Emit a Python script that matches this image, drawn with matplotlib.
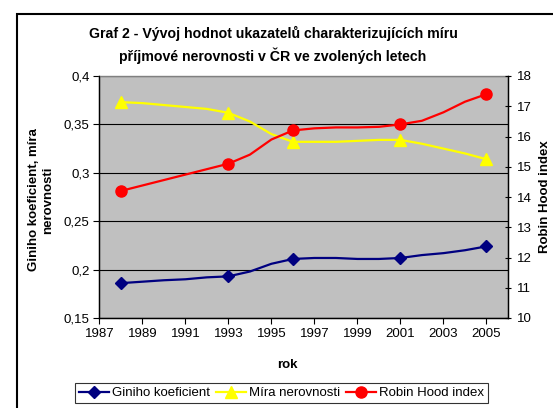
import matplotlib
matplotlib.use("Agg")
import matplotlib.pyplot as plt
from matplotlib.patches import Rectangle

plt.rcParams['font.family'] = ['Liberation Sans', 'DejaVu Sans']

years = [1988, 1989, 1990, 1991, 1992, 1993, 1994, 1995, 1996, 1997,
         1998, 1999, 2000, 2001, 2002, 2003, 2004, 2005]
marker_years = [1988, 1993, 1996, 2001, 2005]
gini = [0.186, 0.1875, 0.189, 0.190, 0.192, 0.193, 0.198, 0.206, 0.211, 0.212,
        0.212, 0.211, 0.211, 0.212, 0.215, 0.217, 0.220, 0.224]
mira = [0.373, 0.372, 0.370, 0.368, 0.366, 0.362, 0.353, 0.340, 0.332, 0.332,
        0.332, 0.333, 0.334, 0.334, 0.330, 0.325, 0.320, 0.314]
robin = [14.2, 14.38, 14.56, 14.74, 14.92, 15.1, 15.4, 15.9, 16.2, 16.27,
         16.3, 16.3, 16.32, 16.4, 16.52, 16.8, 17.15, 17.4]
xticks = list(range(1987, 2006, 2))
left_ticks = [0.15, 0.2, 0.25, 0.3, 0.35, 0.4]
left_labels = ["0,15", "0,2", "0,25", "0,3", "0,35", "0,4"]
right_ticks = list(range(10, 19))

title = "Graf 2 - Vývoj hodnot ukazatelů charakterizujících míru\npříjmové nerovnosti v ČR ve zvolených letech"
names = ["Giniho koeficient", "Míra nerovnosti", "Robin Hood index"]

W, H = 553, 408
fig = plt.figure(figsize=(W / 100, H / 100), dpi=100)
fig.patch.set_facecolor('white')

# outer chart border (extends beyond image at right/bottom)
fig.patches.append(Rectangle((17 / W, -0.1), 1.2, 1 - 14 / H + 0.1, transform=fig.transFigure,
                             fill=False, edgecolor='black', linewidth=1.5))

x0, x1 = 99.3, 508
y0, y1 = 76, 318
ax = fig.add_axes([x0 / W, 1 - y1 / H, (x1 - x0) / W, (y1 - y0) / H])
ax.set_facecolor('#C0C0C0')
ax2 = ax.twinx()

mk = [years.index(y) for y in marker_years]
l1, = ax.plot(years, gini, color='#000080', lw=1.6, marker='D', ms=6.5, markevery=mk, zorder=3)
l2, = ax.plot(years, mira, color='#FFFF00', lw=1.6, marker='^', ms=8, markevery=mk, zorder=3)
l3, = ax2.plot(years, robin, color='#FF0000', lw=1.6, marker='o', ms=8, markevery=mk, zorder=3)

ax.set_xlim(1987, 2006)
ax.set_ylim(0.15, 0.4)
ax2.set_ylim(10, 18)
ax.set_xticks(xticks)
ax.set_yticks(left_ticks)
ax.set_yticklabels(left_labels)
ax2.set_yticks(right_ticks)

ax.grid(axis='y', color='black', lw=0.8)
ax.set_axisbelow(True)
for s in ['left', 'bottom']:
    ax.spines[s].set_color('black')
    ax.spines[s].set_linewidth(1.0)
ax.spines['top'].set_color('#808080')
ax.spines['top'].set_linewidth(1.0)
ax2.spines['right'].set_color('black')
ax2.spines['right'].set_linewidth(1.0)
ax2.spines['top'].set_visible(False)

ax.tick_params(axis='both', labelsize=9.5, length=4, width=0.8, direction='out', pad=3)
ax2.tick_params(axis='y', labelsize=9.5, length=5, width=0.8, direction='inout', pad=4)

fig.text(273 / W, 1 - 45 / H, title, ha='center', va='center', fontsize=10.2,
         fontweight='bold', linespacing=1.45)
fig.text(41 / W, 1 - 200 / H, "Giniho koeficient, míra\nnerovnosti", rotation=90,
         ha='center', va='center', fontsize=9.5, fontweight='bold', linespacing=1.2)
fig.text(545 / W, 1 - 197 / H, "Robin Hood index", rotation=90,
         ha='center', va='center', fontsize=9.5, fontweight='bold')
fig.text(287 / W, 1 - 365 / H, "rok", ha='center', va='center', fontsize=9.5, fontweight='bold')

leg = fig.legend([l1, l2, l3], names, loc='center', bbox_to_anchor=(281.5 / W, 1 - 393 / H),
                 ncol=3, fontsize=9.5, frameon=True, fancybox=False, edgecolor='black',
                 handlelength=2.3, handletextpad=0.2, columnspacing=0.45, borderpad=0.3,
                 borderaxespad=0)
leg.get_frame().set_linewidth(0.8)

fig.savefig("out.png", dpi=100, facecolor='white')
